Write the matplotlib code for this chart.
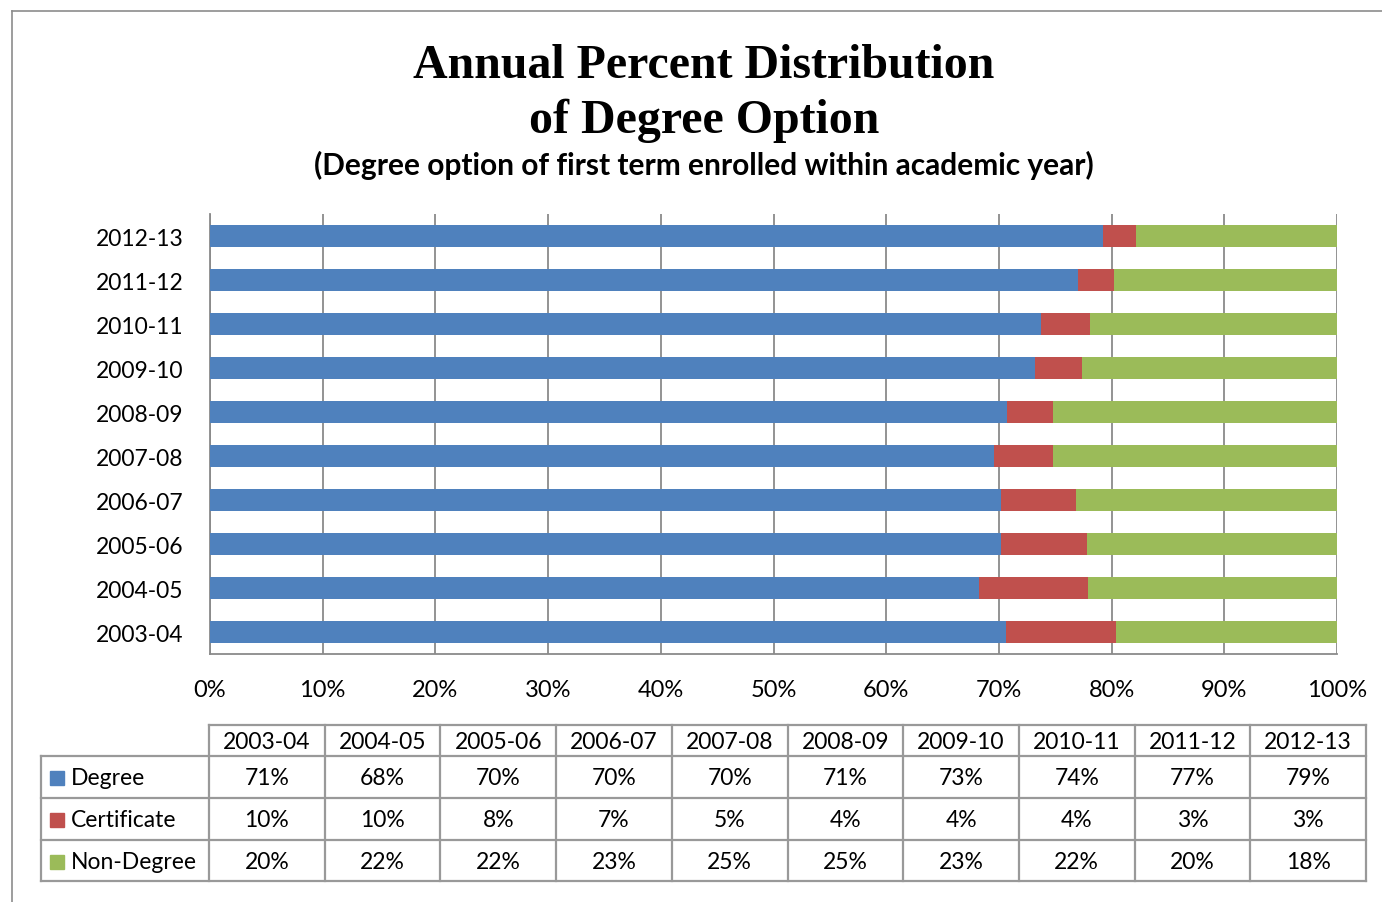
import matplotlib.pyplot as plt
from matplotlib.lines import Line2D
from matplotlib.patches import Rectangle
import numpy as np

# Data
years = ["2003-04", "2004-05", "2005-06", "2006-07", "2007-08",
         "2008-09", "2009-10", "2010-11", "2011-12", "2012-13"]
degree = [70.6, 68.2, 70.2, 70.2, 69.6, 70.7, 73.2, 73.7, 77.0, 79.2]
certificate = [9.8, 9.7, 7.6, 6.6, 5.2, 4.1, 4.2, 4.4, 3.2, 3.0]
non_degree = [19.6, 22.1, 22.2, 23.2, 25.2, 25.2, 22.6, 21.9, 19.8, 17.8]
series_names = ["Degree", "Certificate", "Non-Degree"]
colors = ["#4F81BD", "#C0504D", "#9BBB59"]

W, H = 1382, 903
fig = plt.figure(figsize=(W / 100, H / 100), dpi=100)


def fx(px):
    return px / W


def fy(py):
    return 1 - py / H


# outer chart frame (only left and top edges visible)
fig.add_artist(Line2D([fx(12), fx(12)], [fy(12), fy(903)], color="#8c8c8c", lw=1.2))
fig.add_artist(Line2D([fx(12), fx(1382)], [fy(12), fy(12)], color="#8c8c8c", lw=1.2))

# Titles
fig.text(fx(704), fy(66), "Annual Percent Distribution", ha="center", va="center",
         family="Liberation Serif", weight="bold", fontsize=34.5)
fig.text(fx(704), fy(121), "of Degree Option", ha="center", va="center",
         family="Liberation Serif", weight="bold", fontsize=34.5)
fig.text(fx(704), fy(165), "(Degree option of first term enrolled within academic year)",
         ha="center", va="center", family="Lato", weight="bold", fontsize=21.5)

# Bar chart
ax = fig.add_axes([fx(210), fy(655), fx(1337) - fx(210), (655 - 215) / H])
y = np.arange(len(years))
series = [degree, certificate, non_degree]
left = np.zeros(len(years))
for vals, name, c in zip(series, series_names, colors):
    ax.barh(y, vals, left=left, height=0.5, color=c, label=name, zorder=3)
    left += np.array(vals)

ax.set_xlim(0, 100)
ax.set_ylim(-0.5, len(years) - 0.5)
ax.set_xticks(np.arange(0, 101, 10))
ax.set_xticklabels([f"{t}%" for t in range(0, 101, 10)], family="Lato", fontsize=17)
ax.set_yticks(y)
ax.set_yticklabels(years, family="Lato", fontsize=16.5)
ax.tick_params(axis="x", length=0, pad=18)
ax.tick_params(axis="y", length=0, pad=19)
ax.grid(axis="x", color="#8a8a8a", lw=1.3, zorder=0)
for s in ["top", "right"]:
    ax.spines[s].set_visible(False)
for s in ["left", "bottom"]:
    ax.spines[s].set_color("#8a8a8a")
    ax.spines[s].set_linewidth(1.3)

# Data table below the chart
col0_left, col0_right = 41, 209
col_w = (1366 - 209) / len(years)
row_edges = [726, 757, 799, 841, 882]
line_kw = dict(color="#999999", lw=1.6)

# horizontal lines
fig.add_artist(Line2D([fx(209), fx(1366)], [fy(row_edges[0])] * 2, **line_kw))
for r in row_edges[1:]:
    fig.add_artist(Line2D([fx(col0_left), fx(1366)], [fy(r)] * 2, **line_kw))
# vertical lines
fig.add_artist(Line2D([fx(col0_left)] * 2, [fy(row_edges[1]), fy(row_edges[-1])], **line_kw))
for i in range(len(years) + 1):
    xx = 209 + i * col_w
    fig.add_artist(Line2D([fx(xx)] * 2, [fy(row_edges[0]), fy(row_edges[-1])], **line_kw))

# header
for i, yr in enumerate(years):
    cx = 209 + (i + 0.5) * col_w
    fig.text(fx(cx), fy((row_edges[0] + row_edges[1]) / 2 + 1), yr, ha="center", va="center",
             family="Lato", fontsize=16.5)

# body rows
for r, (vals, name, c) in enumerate(zip(series, series_names, colors)):
    cy = (row_edges[r + 1] + row_edges[r + 2]) / 2 + 1
    fig.add_artist(Rectangle((fx(50), fy(cy + 7)), fx(14), 14 / H, color=c))
    fig.text(fx(71), fy(cy), name, ha="left", va="center", family="Lato", fontsize=16.5)
    for i, v in enumerate(vals):
        cx = 209 + (i + 0.5) * col_w
        fig.text(fx(cx), fy(cy), f"{v:.0f}%", ha="center", va="center",
                 family="Lato", fontsize=16.5)

fig.savefig("out.png", dpi=100)
